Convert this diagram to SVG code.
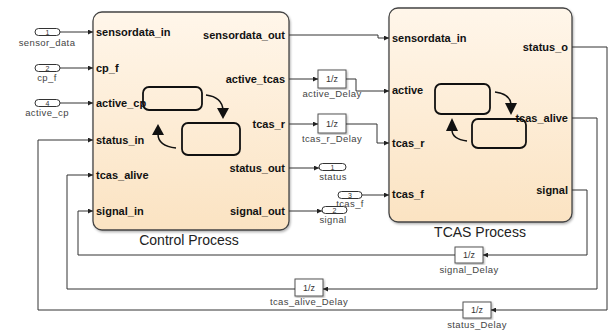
<svg xmlns="http://www.w3.org/2000/svg" width="609" height="331" viewBox="0 0 609 331">
<defs>
<linearGradient id="chartFill" x1="0" y1="0" x2="0" y2="1">
<stop offset="0" stop-color="#fff6ea"/>
<stop offset="1" stop-color="#fbe3c2"/>
</linearGradient>
<marker id="arr" viewBox="0 0 6 6" refX="6" refY="3" markerWidth="5" markerHeight="5" orient="auto" markerUnits="userSpaceOnUse">
<path d="M0,0 L6,3 L0,6 z" fill="#222"/>
</marker>
<filter id="sh" x="-10%" y="-10%" width="120%" height="120%">
<feDropShadow dx="1" dy="1.5" stdDeviation="1" flood-color="#000" flood-opacity="0.3"/>
</filter>
</defs>
<style>
.chart{fill:url(#chartFill);stroke:#444;stroke-width:1.3;filter:url(#sh)}
.state{fill:none;stroke:#111;stroke-width:1.8}
.trans{fill:none;stroke:#111;stroke-width:1.5}
.head{fill:#111}
.port{font-family:"Liberation Sans",Arial,sans-serif;font-size:11px;font-weight:bold;fill:#111}
.title{font-family:"Liberation Sans",Arial,sans-serif;font-size:14px;fill:#222}
.lbl{font-family:"Liberation Sans",Arial,sans-serif;font-size:9.5px;letter-spacing:0.4px;fill:#444;text-anchor:middle}
.blk{fill:#fff;stroke:#555;stroke-width:1;filter:url(#sh)}
.pill{fill:#fff;stroke:#333;stroke-width:1}
.num{font-family:"Liberation Sans",Arial,sans-serif;font-size:7px;fill:#333;text-anchor:middle}
.z{font-family:"Liberation Sans",Arial,sans-serif;font-size:9px;fill:#333;text-anchor:middle}
.wire{fill:none;stroke:#333;stroke-width:1;marker-end:url(#arr)}
</style>
<rect width="609" height="331" fill="#fff"/>

<g id="control_process">
<rect class="chart" x="93" y="12" width="196" height="218" rx="9"/>
<rect class="state" x="143" y="87" width="59" height="23" rx="6"/>
<rect class="state" x="182" y="123" width="58" height="32" rx="6"/>
<path class="trans" d="M206,95 Q222,97 223,110"/>
<path class="head" d="M217,108 L229,108 L223,119 z"/>
<path class="trans" d="M176,148 Q158,146 158,134"/>
<path class="head" d="M152,135 L164,135 L158,124 z"/>
<text class="port" x="96" y="36">sensordata_in</text>
<text class="port" x="96" y="72">cp_f</text>
<text class="port" x="96" y="107">active_cp</text>
<text class="port" x="96" y="144">status_in</text>
<text class="port" x="96" y="179">tcas_alive</text>
<text class="port" x="96" y="215">signal_in</text>
<text class="port" x="285" y="39" text-anchor="end">sensordata_out</text>
<text class="port" x="285" y="83" text-anchor="end">active_tcas</text>
<text class="port" x="285" y="128" text-anchor="end">tcas_r</text>
<text class="port" x="285" y="172" text-anchor="end">status_out</text>
<text class="port" x="285" y="215" text-anchor="end">signal_out</text>
<text class="title" x="189" y="245" text-anchor="middle">Control Process</text>
</g>

<g id="tcas_process">
<rect class="chart" x="389" y="8" width="183" height="214" rx="9"/>
<rect class="state" x="435" y="84" width="55" height="30" rx="6"/>
<rect class="state" x="472" y="119" width="54" height="29" rx="6"/>
<path class="trans" d="M495,92 Q510,94 511,104"/>
<path class="head" d="M505,103 L517,103 L511,115 z"/>
<path class="trans" d="M467,141 Q452,139 452,130"/>
<path class="head" d="M446,131 L458,131 L452,118 z"/>
<text class="port" x="392" y="42">sensordata_in</text>
<text class="port" x="392" y="94">active</text>
<text class="port" x="392" y="147">tcas_r</text>
<text class="port" x="392" y="198">tcas_f</text>
<text class="port" x="568" y="51" text-anchor="end">status_o</text>
<text class="port" x="568" y="122" text-anchor="end">tcas_alive</text>
<text class="port" x="568" y="194" text-anchor="end">signal</text>
<text class="title" x="480" y="237" text-anchor="middle">TCAS Process</text>
</g>

<g id="in_sensor_data">
<rect class="pill" x="35" y="28.5" width="25" height="7" rx="3.5"/>
<text class="num" x="47.5" y="34.5">1</text>
<text class="lbl" x="47" y="46">sensor_data</text>
</g>
<g id="in_cp_f">
<rect class="pill" x="35" y="64.5" width="25" height="7" rx="3.5"/>
<text class="num" x="47.5" y="70.5">2</text>
<text class="lbl" x="47" y="81">cp_f</text>
</g>
<g id="in_active_cp">
<rect class="pill" x="35" y="99.5" width="25" height="7" rx="3.5"/>
<text class="num" x="47.5" y="105.5">4</text>
<text class="lbl" x="47" y="116">active_cp</text>
</g>
<g id="in_tcas_f">
<rect class="pill" x="338" y="191.5" width="24" height="7" rx="3.5"/>
<text class="num" x="350" y="197.5">3</text>
<text class="lbl" x="350" y="207">tcas_f</text>
</g>
<g id="out_status">
<rect class="pill" x="319" y="163.5" width="27" height="7" rx="3.5"/>
<text class="num" x="332.5" y="169.5">1</text>
<text class="lbl" x="333" y="180">status</text>
</g>
<g id="out_signal">
<rect class="pill" x="322" y="206.5" width="25" height="7" rx="3.5"/>
<text class="num" x="334.5" y="212.5">2</text>
<text class="lbl" x="333" y="223">signal</text>
</g>

<g id="active_Delay">
<rect class="blk" x="318" y="70" width="28" height="18"/>
<text class="z" x="332" y="82">1/z</text>
<text class="lbl" x="332" y="97">active_Delay</text>
</g>
<g id="tcas_r_Delay">
<rect class="blk" x="318" y="114" width="28" height="19"/>
<text class="z" x="332" y="127">1/z</text>
<text class="lbl" x="332" y="142">tcas_r_Delay</text>
</g>
<g id="signal_Delay">
<rect class="blk" x="455" y="247" width="28" height="16"/>
<text class="z" x="469" y="258">1/z</text>
<text class="lbl" x="469" y="273">signal_Delay</text>
</g>
<g id="tcas_alive_Delay">
<rect class="blk" x="295" y="279" width="28" height="17"/>
<text class="z" x="309" y="291">1/z</text>
<text class="lbl" x="309" y="305">tcas_alive_Delay</text>
</g>
<g id="status_Delay">
<rect class="blk" x="463" y="302" width="28" height="16"/>
<text class="z" x="477" y="313">1/z</text>
<text class="lbl" x="477" y="328">status_Delay</text>
</g>

<g id="connectors">
<path class="wire" d="M60,32 H93"/>
<path class="wire" d="M60,68 H93"/>
<path class="wire" d="M60,103 H93"/>
<path class="wire" d="M289,35 H378 V38 H389"/>
<path class="wire" d="M289,79 H318"/>
<path class="wire" d="M346,79 H356 V91 H389"/>
<path class="wire" d="M289,124 H318"/>
<path class="wire" d="M346,124 H377 V143 H389"/>
<path class="wire" d="M289,168 H319"/>
<path class="wire" d="M362,195 H389"/>
<path class="wire" d="M289,211 H322"/>
<path class="wire" d="M572,47 H607 V310 H491"/>
<path class="wire" d="M463,310 H38 V140 H93"/>
<path class="wire" d="M572,118 H597 V289 H323"/>
<path class="wire" d="M295,289 H67 V175 H93"/>
<path class="wire" d="M572,190 H587 V255 H483"/>
<path class="wire" d="M455,255 H78 V211 H93"/>
</g>
</svg>
